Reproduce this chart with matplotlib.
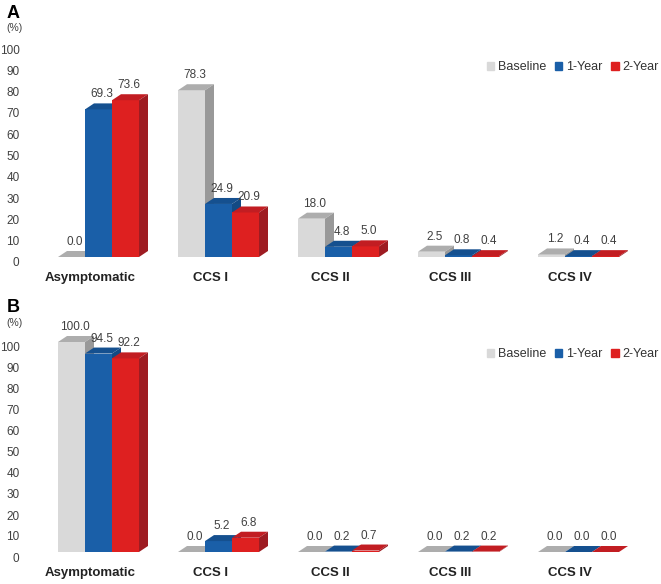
"""
Angina class (CCS) distribution at baseline, 1 and 2 years, pseudo-3D bars.
"""

import matplotlib

matplotlib.use("Agg")
import matplotlib.pyplot as plt
from matplotlib.patches import Patch, Polygon

plt.rcParams["font.family"] = ["Liberation Sans", "DejaVu Sans"]

categories = ["Asymptomatic", "CCS I", "CCS II", "CCS III", "CCS IV"]
series = ["Baseline", "1-Year", "2-Year"]

# panel A
baseline_a = [0.0, 78.3, 18.0, 2.5, 1.2]
year1_a = [69.3, 24.9, 4.8, 0.8, 0.4]
year2_a = [73.6, 20.9, 5.0, 0.4, 0.4]

# panel B
baseline_b = [100.0, 0.0, 0.0, 0.0, 0.0]
year1_b = [94.5, 5.2, 0.2, 0.2, 0.0]
year2_b = [92.2, 6.8, 0.7, 0.2, 0.0]

yticks = list(range(0, 101, 10))

# front / top / side colours per series
colors = [
    ("#d9d9d9", "#adadad", "#999999"),
    ("#1a5fa8", "#15508f", "#134a84"),
    ("#de2020", "#c21d22", "#9e1c22"),
]

W, H, DPI = 661, 584, 100
PX_X = 120.0          # pixels per category
X0 = 98.5             # pixel of first group centre
BAR_W = 27 / PX_X
DX = 9 / PX_X


def draw_panel(fig, base_px, scale, data, letter, legend_y):
    top_px, bot_px = base_px - 222 + 5, base_px + 5
    ax = fig.add_axes([25 / W, 1 - bot_px / H, 630 / W, (bot_px - top_px) / H])
    ax.set_xlim((25 - X0) / PX_X, (655 - X0) / PX_X)
    ax.set_ylim(-5 / scale, (base_px - top_px) / scale)
    dy = 6 / scale
    off = 5 / scale

    z = 2
    for i in range(len(categories)):
        for j, vals in enumerate(data):
            v = vals[i]
            x = i + (j - 1) * BAR_W
            front, top, side = colors[j]
            ax.bar(x, v, BAR_W, color=front, zorder=z, linewidth=0)
            xl, xr = x - BAR_W / 2, x + BAR_W / 2
            ax.add_patch(Polygon([(xl, v), (xr, v), (xr + DX, v + dy), (xl + DX, v + dy)],
                                 closed=True, color=top, lw=0, zorder=z))
            ax.add_patch(Polygon([(xr, 0), (xr + DX, dy), (xr + DX, v + dy), (xr, v)],
                                 closed=True, color=side, lw=0, zorder=z))
            ax.text(x + DX / 2 - 0.01, v + dy + 9 / scale, f"{v:.1f}", ha="center",
                    va="center", fontsize=8.5, color="#404040", zorder=50, clip_on=False)
            z += 1

    ax.set_xticks([i - 0.07 for i in range(len(categories))])
    ax.set_xticklabels(categories, fontsize=9.5, fontweight="bold", color="#222222")
    ax.set_yticks([t - off for t in yticks])
    ax.set_yticklabels([str(t) for t in yticks], fontsize=8.5, color="#404040")
    ax.tick_params(length=0)
    ax.tick_params(axis="x", pad=7)
    ax.tick_params(axis="y", pad=4)
    for s in ax.spines.values():
        s.set_visible(False)

    handles = [Patch(color=c[0]) for c in colors]
    ax.legend(handles, series, loc="center right",
              bbox_to_anchor=(1.024, (bot_px - legend_y) / (bot_px - top_px)),
              ncol=3, frameon=False, fontsize=9, handlelength=0.6, handleheight=0.6,
              handletextpad=0.3, columnspacing=0.7, labelcolor="#333333")

    fig.text(7 / W, 1 - (base_px - 244) / H, letter, fontsize=13, fontweight="bold",
             va="center", ha="left")
    fig.text(6 / W, 1 - (base_px - 229) / H, "(%)", fontsize=7.5, va="center",
             ha="left", color="#404040")


def main():
    fig = plt.figure(figsize=(W / DPI, H / DPI), dpi=DPI)
    draw_panel(fig, 257, 2.13, [baseline_a, year1_a, year2_a], "A", 67)
    draw_panel(fig, 552, 2.10, [baseline_b, year1_b, year2_b], "B", 354)
    fig.savefig("out.png", dpi=DPI)


if __name__ == "__main__":
    main()
